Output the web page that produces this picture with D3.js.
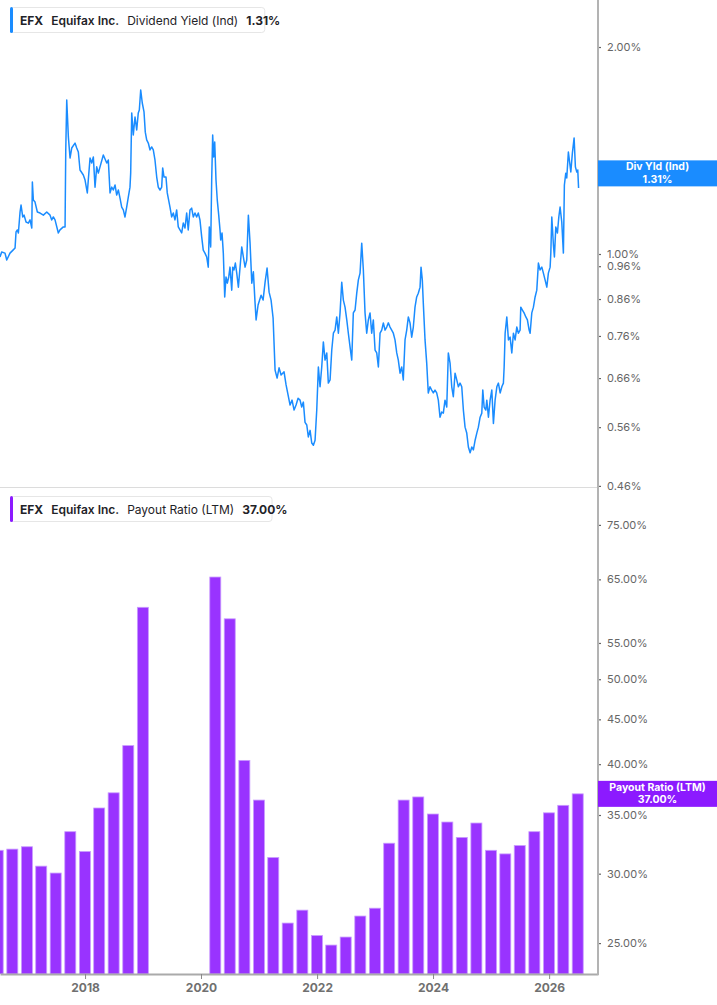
<!DOCTYPE html>
<html>
<head>
<meta charset="utf-8">
<script src="https://cdn.jsdelivr.net/npm/d3@7"></script>
<style>
  body { margin: 0; background: #fff; }
  svg { display: block; font-family: Inter, "Noto Sans", sans-serif; }
</style>
</head>
<body>
<div class="canvas"></div>
<script>
// dividend yield (%), dates as decimal years
const yieldYears = [
  2016.534, 2016.563, 2016.620, 2016.650, 2016.706, 2016.758, 2016.793, 2016.810, 2016.832, 2016.850,
  2016.879, 2016.896, 2016.925, 2016.948, 2016.982, 2017.022, 2017.051, 2017.081, 2017.091, 2017.108,
  2017.137, 2017.177, 2017.224, 2017.281, 2017.339, 2017.396, 2017.425, 2017.453, 2017.482, 2017.539,
  2017.568, 2017.625, 2017.655, 2017.667, 2017.684, 2017.712, 2017.741, 2017.770, 2017.827, 2017.856,
  2017.884, 2017.913, 2017.970, 2018.000, 2018.039, 2018.056, 2018.086, 2018.115, 2018.143, 2018.172,
  2018.201, 2018.229, 2018.258, 2018.315, 2018.374, 2018.401, 2018.431, 2018.460, 2018.487, 2018.517,
  2018.546, 2018.574, 2018.603, 2018.632, 2018.660, 2018.689, 2018.718, 2018.746, 2018.775, 2018.787,
  2018.805, 2018.832, 2018.862, 2018.891, 2018.918, 2018.936, 2018.960, 2018.987, 2019.017, 2019.039,
  2019.063, 2019.091, 2019.120, 2019.149, 2019.177, 2019.206, 2019.236, 2019.263, 2019.293, 2019.322,
  2019.339, 2019.362, 2019.396, 2019.418, 2019.465, 2019.494, 2019.522, 2019.551, 2019.580, 2019.608,
  2019.637, 2019.667, 2019.694, 2019.724, 2019.753, 2019.780, 2019.810, 2019.839, 2019.867, 2019.896,
  2019.925, 2019.953, 2019.982, 2020.012, 2020.039, 2020.068, 2020.098, 2020.125, 2020.143, 2020.167,
  2020.184, 2020.201, 2020.218, 2020.236, 2020.258, 2020.280, 2020.305, 2020.327, 2020.339, 2020.362,
  2020.384, 2020.408, 2020.430, 2020.453, 2020.477, 2020.499, 2020.529, 2020.546, 2020.568, 2020.591,
  2020.615, 2020.643, 2020.672, 2020.701, 2020.729, 2020.758, 2020.787, 2020.815, 2020.844, 2020.874,
  2020.901, 2020.930, 2020.948, 2020.982, 2021.034, 2021.068, 2021.103, 2021.137, 2021.172, 2021.206,
  2021.241, 2021.275, 2021.310, 2021.344, 2021.379, 2021.430, 2021.465, 2021.499, 2021.534, 2021.568,
  2021.603, 2021.637, 2021.672, 2021.706, 2021.735, 2021.763, 2021.792, 2021.822, 2021.849, 2021.879,
  2021.908, 2021.936, 2021.965, 2021.994, 2022.022, 2022.051, 2022.080, 2022.108, 2022.137, 2022.167,
  2022.194, 2022.224, 2022.253, 2022.281, 2022.310, 2022.339, 2022.367, 2022.396, 2022.425, 2022.453,
  2022.482, 2022.512, 2022.539, 2022.569, 2022.598, 2022.625, 2022.655, 2022.684, 2022.712, 2022.741,
  2022.770, 2022.798, 2022.827, 2022.856, 2022.884, 2022.913, 2022.942, 2022.970, 2023.000, 2023.029,
  2023.057, 2023.086, 2023.115, 2023.143, 2023.172, 2023.201, 2023.229, 2023.258, 2023.287, 2023.315,
  2023.344, 2023.374, 2023.401, 2023.431, 2023.460, 2023.487, 2023.517, 2023.546, 2023.574, 2023.603,
  2023.632, 2023.660, 2023.689, 2023.718, 2023.746, 2023.776, 2023.793, 2023.815, 2023.832, 2023.862,
  2023.891, 2023.918, 2023.948, 2023.977, 2024.005, 2024.034, 2024.063, 2024.091, 2024.120, 2024.149,
  2024.177, 2024.206, 2024.236, 2024.263, 2024.293, 2024.322, 2024.349, 2024.379, 2024.408, 2024.436,
  2024.465, 2024.494, 2024.522, 2024.551, 2024.580, 2024.608, 2024.638, 2024.667, 2024.694, 2024.724,
  2024.753, 2024.780, 2024.810, 2024.839, 2024.856, 2024.879, 2024.908, 2024.925, 2024.953, 2024.982,
  2025.011, 2025.039, 2025.068, 2025.098, 2025.125, 2025.155, 2025.184, 2025.211, 2025.224, 2025.241,
  2025.270, 2025.298, 2025.327, 2025.356, 2025.384, 2025.413, 2025.442, 2025.470, 2025.499, 2025.511,
  2025.539, 2025.568, 2025.598, 2025.625, 2025.655, 2025.672, 2025.701, 2025.729, 2025.758, 2025.787,
  2025.815, 2025.844, 2025.874, 2025.901, 2025.930, 2025.960, 2025.987, 2026.017, 2026.029, 2026.046,
  2026.074, 2026.091, 2026.115, 2026.143, 2026.167, 2026.189, 2026.218, 2026.246, 2026.263, 2026.287,
  2026.304, 2026.332, 2026.349, 2026.374, 2026.401, 2026.431, 2026.453, 2026.477, 2026.494, 2026.508
];
const yieldValues = [
  0.990, 1.007, 1.003, 0.980, 1.003, 1.013, 1.020, 1.077, 1.084, 1.073,
  1.151, 1.178, 1.132, 1.139, 1.113, 1.109, 1.121, 1.091, 1.273, 1.198,
  1.190, 1.151, 1.147, 1.139, 1.151, 1.139, 1.121, 1.132, 1.121, 1.073,
  1.084, 1.095, 1.095, 1.417, 1.675, 1.480, 1.379, 1.426, 1.450, 1.426,
  1.407, 1.325, 1.303, 1.281, 1.227, 1.281, 1.379, 1.356, 1.384, 1.251,
  1.339, 1.311, 1.339, 1.393, 1.356, 1.370, 1.227, 1.251, 1.239, 1.260,
  1.218, 1.239, 1.206, 1.170, 1.159, 1.132, 1.170, 1.210, 1.251, 1.311,
  1.604, 1.490, 1.582, 1.515, 1.604, 1.620, 1.732, 1.658, 1.609, 1.504,
  1.465, 1.450, 1.417, 1.431, 1.417, 1.370, 1.294, 1.251, 1.239, 1.251,
  1.334, 1.294, 1.294, 1.227, 1.170, 1.132, 1.147, 1.121, 1.159, 1.095,
  1.084, 1.073, 1.109, 1.091, 1.147, 1.084, 1.159, 1.166, 1.132, 1.147,
  1.132, 1.147, 1.121, 1.059, 1.013, 1.003, 0.990, 0.957, 1.095, 1.024,
  1.281, 1.490, 1.384, 1.455, 1.281, 1.198, 1.139, 1.084, 1.048, 1.073,
  1.003, 0.866, 0.926, 0.907, 0.926, 0.957, 0.886, 0.957, 0.948, 0.970,
  0.938, 0.895, 0.957, 1.024, 0.990, 0.957, 0.980, 1.139, 1.037, 0.907,
  0.942, 0.849, 0.802, 0.843, 0.871, 0.857, 0.910, 0.954, 0.880, 0.857,
  0.807, 0.678, 0.660, 0.683, 0.667, 0.674, 0.645, 0.624, 0.603, 0.613,
  0.593, 0.603, 0.617, 0.613, 0.599, 0.609, 0.569, 0.564, 0.542, 0.554,
  0.531, 0.527, 0.536, 0.593, 0.685, 0.641, 0.685, 0.745, 0.701, 0.718,
  0.649, 0.656, 0.725, 0.767, 0.775, 0.810, 0.767, 0.821, 0.910, 0.857,
  0.837, 0.802, 0.767, 0.732, 0.701, 0.821, 0.829, 0.877, 0.917, 0.938,
  1.037, 0.948, 0.821, 0.767, 0.802, 0.821, 0.767, 0.802, 0.725, 0.718,
  0.685, 0.767, 0.775, 0.794, 0.775, 0.783, 0.794, 0.783, 0.775, 0.767,
  0.750, 0.718, 0.701, 0.671, 0.685, 0.656, 0.750, 0.775, 0.810, 0.794,
  0.757, 0.783, 0.837, 0.866, 0.877, 0.895, 0.957, 0.917, 0.849, 0.750,
  0.694, 0.628, 0.641, 0.634, 0.628, 0.634, 0.628, 0.613, 0.579, 0.589,
  0.587, 0.613, 0.599, 0.718, 0.694, 0.641, 0.620, 0.671, 0.656, 0.641,
  0.649, 0.641, 0.593, 0.560, 0.549, 0.524, 0.514, 0.524, 0.519, 0.536,
  0.549, 0.560, 0.579, 0.587, 0.634, 0.599, 0.593, 0.613, 0.579, 0.613,
  0.634, 0.567, 0.613, 0.641, 0.649, 0.628, 0.641, 0.649, 0.685, 0.767,
  0.810, 0.750, 0.757, 0.718, 0.767, 0.750, 0.783, 0.767, 0.775, 0.837,
  0.829, 0.821, 0.810, 0.802, 0.775, 0.767, 0.821, 0.837, 0.866, 0.886,
  0.970, 0.948, 0.957, 0.938, 0.917, 0.895, 0.938, 0.957, 1.003, 1.132,
  1.030, 0.990, 1.095, 1.073, 1.132, 1.170, 1.113, 1.003, 1.260, 1.311,
  1.290, 1.407, 1.370, 1.316, 1.402, 1.475, 1.339, 1.316, 1.325, 1.247
];
const yieldTicks = [0.46, 0.56, 0.66, 0.76, 0.86, 0.96, 1.00, 2.00];

// payout ratio (LTM, %) per quarter end; 2019 has no values
const payoutQuarters = [
  "2016-06-30", "2016-09-30", "2016-12-31", "2017-03-31", "2017-06-30", "2017-09-30", "2017-12-31",
  "2018-03-31", "2018-06-30", "2018-09-30", "2018-12-31",
  "2020-03-31", "2020-06-30", "2020-09-30", "2020-12-31", "2021-03-31", "2021-06-30", "2021-09-30",
  "2021-12-31", "2022-03-31", "2022-06-30", "2022-09-30", "2022-12-31", "2023-03-31", "2023-06-30",
  "2023-09-30", "2023-12-31", "2024-03-31", "2024-06-30", "2024-09-30", "2024-12-31", "2025-03-31",
  "2025-06-30", "2025-09-30", "2025-12-31", "2026-03-31", "2026-06-30"
];
const payoutValues = [
  31.9, 32.0, 32.2, 30.6, 30.05, 33.5, 31.8,
  35.65, 37.1, 42.0, 60.4,
  65.4, 58.6, 40.4, 36.4, 31.3, 26.35, 27.26,
  25.5, 24.87, 25.4, 26.84, 27.4, 32.5, 36.4,
  36.7, 35.09, 34.36, 33.0, 34.27, 31.9, 31.6,
  32.3, 33.5, 35.2, 35.9, 37.0
];
const payoutTicks = [25, 30, 35, 40, 45, 50, 55, 65, 75];

const lastYield = 1.31;
const lastPayout = 37.00;

const dims = {width: 717, height: 1005, plotRight: 598};
const topPanel = {y0: 0, y1: 487};
const botPanel = {y0: 490, y1: 974};
const blue = '#1a8cff';
const purple = '#9933ff';
const purpleDark = '#8c1aff';

const yearToDate = y => {
    const yr = Math.floor(y);
    const s = Date.UTC(yr, 0, 1), e = Date.UTC(yr + 1, 0, 1);
    return new Date(s + (y - yr) * (e - s));
};
const parse = d3.utcParse('%Y-%m-%d');

const svg = d3.select('.canvas')
    .append('svg').attr('width', dims.width).attr('height', dims.height);

const x = d3.scaleUtc()
    .domain([yearToDate(2016.534), yearToDate(2026.843)])
    .range([0, dims.plotRight]);

const yTop = d3.scaleLog().domain([0.4583, 2.341]).range([topPanel.y1, topPanel.y0]);
const yBot = d3.scaleLog().domain([23.05, 82.2]).range([botPanel.y1, botPanel.y0]);

svg.append('clipPath').attr('id', 'plotclip')
    .append('rect').attr('x', 0).attr('y', 0).attr('width', dims.plotRight).attr('height', botPanel.y1);

// separator between panels
svg.append('line')
    .attr('x1', 0).attr('x2', dims.plotRight)
    .attr('y1', topPanel.y1 + 0.5).attr('y2', topPanel.y1 + 0.5)
    .attr('stroke', '#dcdcdc');

// top panel: dividend yield line
const yieldData = yieldYears.map((t, i) => ({date: yearToDate(t), value: yieldValues[i]}));
const line = d3.line().x(d => x(d.date)).y(d => yTop(d.value));

svg.append('path')
    .datum(yieldData)
    .attr('clip-path', 'url(#plotclip)')
    .attr('fill', 'none')
    .attr('stroke', blue)
    .attr('stroke-width', 1.5)
    .attr('stroke-linejoin', 'round')
    .attr('d', line);

// bottom panel: payout ratio bars
const payoutData = payoutQuarters.map((q, i) => ({date: parse(q), value: payoutValues[i]}));
const barW = 11;

svg.append('g').attr('clip-path', 'url(#plotclip)')
    .selectAll('rect')
    .data(payoutData)
    .enter()
    .append('rect')
        .attr('x', d => x(d.date) - barW / 2)
        .attr('y', d => yBot(d.value))
        .attr('width', barW)
        .attr('height', d => botPanel.y1 - yBot(d.value))
        .attr('fill', purple)
        .attr('stroke', '#c99bff')
        .attr('stroke-width', 0.8);

// right axes
const fmtPct = d => d3.format('.2f')(d) + '%';

const styleAxis = g => {
    g.select('.domain').remove();
    g.selectAll('.tick line').attr('stroke', '#666').attr('stroke-width', 1.2);
    g.selectAll('.tick text').attr('fill', '#666').attr('font-size', 11).attr('font-family', 'Inter, sans-serif');
};

svg.append('g')
    .attr('transform', `translate(${dims.plotRight},0)`)
    .call(d3.axisRight(yTop).tickValues(yieldTicks).tickFormat(fmtPct).tickSize(3).tickPadding(6))
    .call(styleAxis);

svg.append('g')
    .attr('transform', `translate(${dims.plotRight},0)`)
    .call(d3.axisRight(yBot).tickValues(payoutTicks).tickFormat(fmtPct).tickSize(3).tickPadding(6))
    .call(styleAxis);

// bottom time axis
const xAxis = svg.append('g')
    .attr('transform', `translate(0,${botPanel.y1})`)
    .call(d3.axisBottom(x).ticks(d3.utcYear.every(2)).tickFormat(d3.utcFormat('%Y')).tickSize(5).tickSizeOuter(0).tickPadding(4));
xAxis.select('.domain').attr('stroke', '#aaa').attr('stroke-width', 2);
xAxis.selectAll('.tick line').attr('stroke', '#888');
xAxis.selectAll('.tick text')
    .attr('fill', '#707070').attr('font-size', 12).attr('font-weight', 700)
    .attr('font-family', 'Inter, sans-serif');

// vertical axis line on the right
svg.append('line')
    .attr('x1', dims.plotRight).attr('x2', dims.plotRight)
    .attr('y1', 0).attr('y2', botPanel.y1 + 1)
    .attr('stroke', '#b3b3b3').attr('stroke-width', 2);

// last value tags on the axis
const tag = (yPos, color, label, value) => {
    const g = svg.append('g').attr('transform', `translate(${dims.plotRight},${yPos})`);
    g.append('rect').attr('x', 0).attr('y', -13).attr('width', dims.width - dims.plotRight).attr('height', 26)
        .attr('fill', color);
    g.append('text').attr('x', (dims.width - dims.plotRight) / 2).attr('y', -3.2)
        .attr('text-anchor', 'middle').attr('fill', '#fff').attr('font-size', 10.5).attr('font-weight', 700)
        .text(label);
    g.append('text').attr('x', (dims.width - dims.plotRight) / 2).attr('y', 9.3)
        .attr('text-anchor', 'middle').attr('fill', '#fff').attr('font-size', 10.5).attr('font-weight', 700)
        .text(value);
};
tag(yTop(lastYield), blue, 'Div Yld (Ind)', fmtPct(lastYield));
tag(yBot(lastPayout), purpleDark, 'Payout Ratio (LTM)', fmtPct(lastPayout));

// legend boxes top-left of each panel
const legend = (yTopPx, color, metric, value) => {
    const g = svg.append('g').attr('transform', `translate(10,${yTopPx})`);
    const box = g.append('rect').attr('x', 0.5).attr('y', 0.5).attr('height', 25).attr('rx', 3)
        .attr('fill', '#fff').attr('stroke', '#e6e6e6');
    g.append('rect').attr('x', 0).attr('y', 0).attr('width', 3).attr('height', 26).attr('rx', 1.5)
        .attr('fill', color);
    const t = g.append('text').attr('x', 10).attr('y', 17.5).attr('font-size', 12).attr('fill', '#1f2328');
    t.append('tspan').attr('font-weight', 700).text('EFX');
    t.append('tspan').attr('dx', 8).attr('font-weight', 600).text('Equifax Inc.');
    t.append('tspan').attr('dx', 8).attr('font-weight', 400).text(metric);
    t.append('tspan').attr('dx', 8).attr('font-weight', 700).text(value);
    box.attr('width', 10 + t.node().getComputedTextLength() + 8);
};
legend(7, blue, 'Dividend Yield (Ind)', fmtPct(lastYield));
legend(496, purpleDark, 'Payout Ratio (LTM)', fmtPct(lastPayout));
</script>
</body>
</html>
